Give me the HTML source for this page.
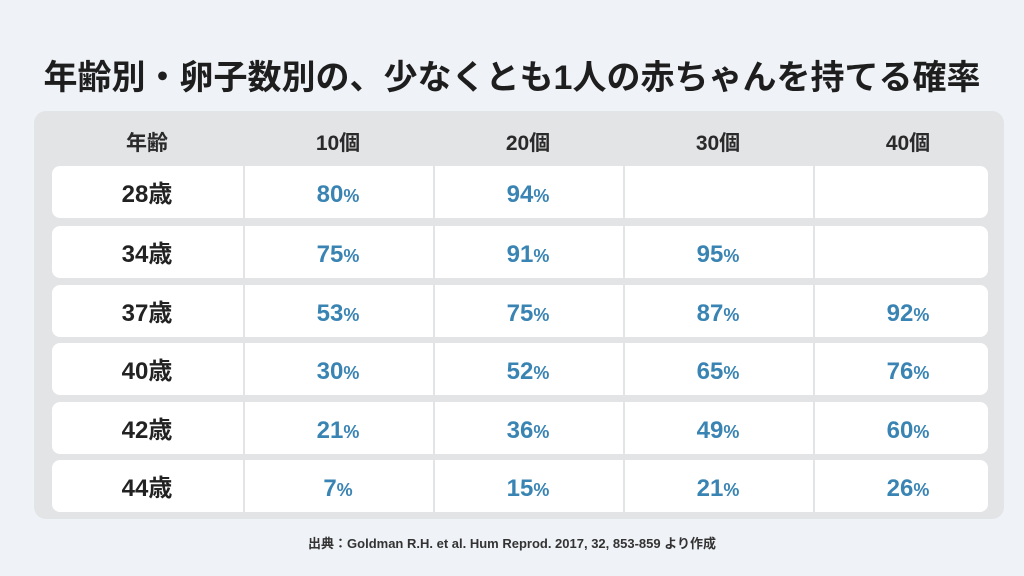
<!DOCTYPE html>
<html><head><meta charset="utf-8"><style>
body{margin:0;width:1024px;height:576px;background:#eff2f6;font-family:"Liberation Sans","Noto Sans CJK JP",sans-serif;position:relative;overflow:hidden}
.t{position:absolute;left:0;width:1024px;top:50px;text-align:center;font-size:34px;font-weight:bold;color:#1e1e1e;white-space:nowrap}
.panel{position:absolute;left:34px;top:111px;width:970px;height:408px;background:#e3e4e6;border-radius:12px}
.h{position:absolute;top:127px;width:190px;text-align:center;font-size:21px;font-weight:bold;color:#2a2a2a}
.row{position:absolute;left:52px;width:936px;height:52px;background:#fff;border-radius:8px}
.d{position:absolute;top:0;width:2px;height:100%;background:#e3e4e6}
.c{position:absolute;top:3px;width:190px;text-align:center;font-size:24px;font-weight:bold;line-height:52px}
.a{color:#222}
.v{color:#3a84b3}
.v small{font-size:18px}
.f{position:absolute;top:533px;left:0;width:1024px;text-align:center;font-size:13px;font-weight:bold;color:#333}
</style></head><body>
<div class="t">年齢別・卵子数別の、少なくとも1人の赤ちゃんを持てる確率</div>
<div class="panel"></div>
<div class="h" style="left:52px">年齢</div>
<div class="h" style="left:243px">10個</div>
<div class="h" style="left:433px">20個</div>
<div class="h" style="left:623px">30個</div>
<div class="h" style="left:813px">40個</div>

<div class="row" style="top:166px"><div class="d" style="left:191px"></div><div class="d" style="left:381px"></div><div class="d" style="left:571px"></div><div class="d" style="left:761px"></div>
<div class="c a" style="left:0">28歳</div><div class="c v" style="left:191px">80<small>%</small></div><div class="c v" style="left:381px">94<small>%</small></div></div>

<div class="row" style="top:226px"><div class="d" style="left:191px"></div><div class="d" style="left:381px"></div><div class="d" style="left:571px"></div><div class="d" style="left:761px"></div>
<div class="c a" style="left:0">34歳</div><div class="c v" style="left:191px">75<small>%</small></div><div class="c v" style="left:381px">91<small>%</small></div><div class="c v" style="left:571px">95<small>%</small></div></div>

<div class="row" style="top:285px"><div class="d" style="left:191px"></div><div class="d" style="left:381px"></div><div class="d" style="left:571px"></div><div class="d" style="left:761px"></div>
<div class="c a" style="left:0">37歳</div><div class="c v" style="left:191px">53<small>%</small></div><div class="c v" style="left:381px">75<small>%</small></div><div class="c v" style="left:571px">87<small>%</small></div><div class="c v" style="left:761px">92<small>%</small></div></div>

<div class="row" style="top:343px"><div class="d" style="left:191px"></div><div class="d" style="left:381px"></div><div class="d" style="left:571px"></div><div class="d" style="left:761px"></div>
<div class="c a" style="left:0">40歳</div><div class="c v" style="left:191px">30<small>%</small></div><div class="c v" style="left:381px">52<small>%</small></div><div class="c v" style="left:571px">65<small>%</small></div><div class="c v" style="left:761px">76<small>%</small></div></div>

<div class="row" style="top:402px"><div class="d" style="left:191px"></div><div class="d" style="left:381px"></div><div class="d" style="left:571px"></div><div class="d" style="left:761px"></div>
<div class="c a" style="left:0">42歳</div><div class="c v" style="left:191px">21<small>%</small></div><div class="c v" style="left:381px">36<small>%</small></div><div class="c v" style="left:571px">49<small>%</small></div><div class="c v" style="left:761px">60<small>%</small></div></div>

<div class="row" style="top:460px"><div class="d" style="left:191px"></div><div class="d" style="left:381px"></div><div class="d" style="left:571px"></div><div class="d" style="left:761px"></div>
<div class="c a" style="left:0">44歳</div><div class="c v" style="left:191px">7<small>%</small></div><div class="c v" style="left:381px">15<small>%</small></div><div class="c v" style="left:571px">21<small>%</small></div><div class="c v" style="left:761px">26<small>%</small></div></div>

<div class="f">出典：Goldman R.H. et al. Hum Reprod. 2017, 32, 853-859 より作成</div>
</body></html>
